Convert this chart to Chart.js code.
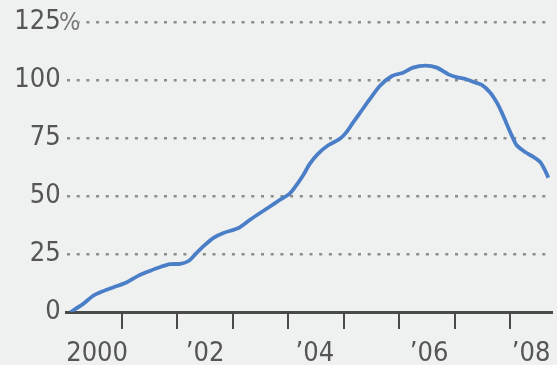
<!DOCTYPE html>
<html>
<head>
<meta charset="utf-8">
<script src="https://cdn.jsdelivr.net/npm/chart.js@4"></script>
<style>
  html, body { margin: 0; padding: 0; background: #eff0f0; }
  #wrap { width: 557px; height: 365px; }
</style>
</head>
<body>
<div id="wrap"><canvas id="grafico" width="557" height="365"></canvas></div>
<script>
// Fechas (año decimal) y variación acumulada desde 2000 (%)
const fechas = [
  2000.07, 2000.30, 2000.48, 2000.66, 2000.84, 2001.08, 2001.29, 2001.50, 2001.69, 2001.87,
  2002.05, 2002.20, 2002.35, 2002.47, 2002.65, 2002.83, 2003.10, 2003.31, 2003.49, 2003.67,
  2003.85, 2004.03, 2004.15, 2004.27, 2004.39, 2004.54, 2004.72, 2004.93, 2005.05, 2005.17,
  2005.32, 2005.47, 2005.65, 2005.87, 2006.07, 2006.25, 2006.47, 2006.68, 2006.89, 2007.05,
  2007.20, 2007.34, 2007.49, 2007.64, 2007.76, 2007.85, 2007.94, 2008.03, 2008.12, 2008.27,
  2008.42, 2008.54, 2008.63, 2008.69
];
const variacion = [
  0, 3.5, 7, 9, 10.6, 12.7, 15.6, 17.7, 19.4, 20.6,
  20.8, 22, 25.6, 28.4, 32, 34.1, 36.2, 39.8, 42.7, 45.5,
  48.4, 51.2, 54.8, 59.1, 64, 68.3, 71.9, 74.7, 77.6, 81.8,
  86.8, 91.8, 97.5, 101.8, 103.2, 105.4, 106.3, 105.4, 102.5, 101.2,
  100.5, 99.2, 98, 94.7, 90.4, 86.1, 81.1, 76.2, 71.9, 69,
  66.9, 64.8, 61.2, 57.9
];
const marcasAnios = [2001, 2002, 2003, 2004, 2005, 2006, 2007, 2008];
const etiquetasAnios = ['2000', '\u201902', '\u201904', '\u201906', '\u201908'];
const posEtiquetas = [2000.55, 2002.5, 2004.48, 2006.54, 2008.38];
const marcasY = [0, 25, 50, 75, 100, 125];

const fuente = "'Liberation Sans Narrow', 'DejaVu Sans Condensed', sans-serif";
const fondo = '#eff0f0';

// Fondo y signo de porcentaje
const extras = {
  id: 'extras',
  beforeDraw(chart) {
    const c = chart.ctx;
    c.save();
    c.fillStyle = fondo;
    c.fillRect(0, 0, chart.width, chart.height);
    c.restore();
  },
  afterDatasetsDraw(chart) {
    const c = chart.ctx;
    const y = chart.scales.y.getPixelForValue(125);
    c.save();
    c.fillStyle = fondo;
    c.fillRect(59, y - 12, 20, 24);
    c.font = '25px ' + fuente;
    c.fillStyle = '#777';
    c.textBaseline = 'middle';
    c.fillText('%', 59, y + 1);
    c.restore();
  }
};

new Chart(document.getElementById('grafico'), {
  type: 'line',
  data: {
    datasets: [{
      data: fechas.map((f, i) => ({ x: f, y: variacion[i] })),
      borderColor: '#4a7fc7',
      borderWidth: 3.8,
      pointRadius: 0,
      tension: 0.25,
      fill: false
    }]
  },
  options: {
    responsive: false,
    animation: false,
    layout: { padding: { top: 19, right: 5, left: 0, bottom: 0 } },
    plugins: { legend: { display: false }, tooltip: { enabled: false } },
    scales: {
      x: {
        type: 'linear',
        position: 'bottom',
        min: 2000,
        max: 2008.757,
        afterBuildTicks: s => { s.ticks = marcasAnios.map(v => ({ value: v })); },
        afterFit: s => { s.height = 17; },
        ticks: { callback: () => '', padding: 0 },
        grid: { drawOnChartArea: false, drawTicks: true, tickLength: 17, color: '#4a4a4a', lineWidth: 2 },
        border: { display: true, color: '#4a4a4a', width: 3 }
      },
      x2: {
        type: 'linear',
        position: 'bottom',
        min: 2000,
        max: 2008.757,
        afterBuildTicks: s => { s.ticks = posEtiquetas.map(v => ({ value: v })); },
        afterFit: s => { s.height = 36; },
        ticks: {
          callback: (v, i) => etiquetasAnios[i],
          font: { family: fuente, size: 27 },
          color: '#555',
          padding: 1,
          maxRotation: 0,
          autoSkip: false
        },
        grid: { display: false },
        border: { display: false }
      },
      y: {
        min: 0,
        max: 125,
        afterBuildTicks: s => { s.ticks = marcasY.map(v => ({ value: v })); },
        afterFit: s => { s.width = 66.6; },
        ticks: {
          font: { family: fuente, size: 27 },
          color: '#555',
          padding: 6,
          callback: v => String(v)
        },
        grid: {
          drawTicks: false,
          color: c => c.tick && c.tick.value === 0 ? 'rgba(0,0,0,0)' : '#8c8c8c',
          lineWidth: 2.5
        },
        border: { display: false, dash: [3, 6.7] }
      }
    }
  },
  plugins: [extras]
});
</script>
</body>
</html>
